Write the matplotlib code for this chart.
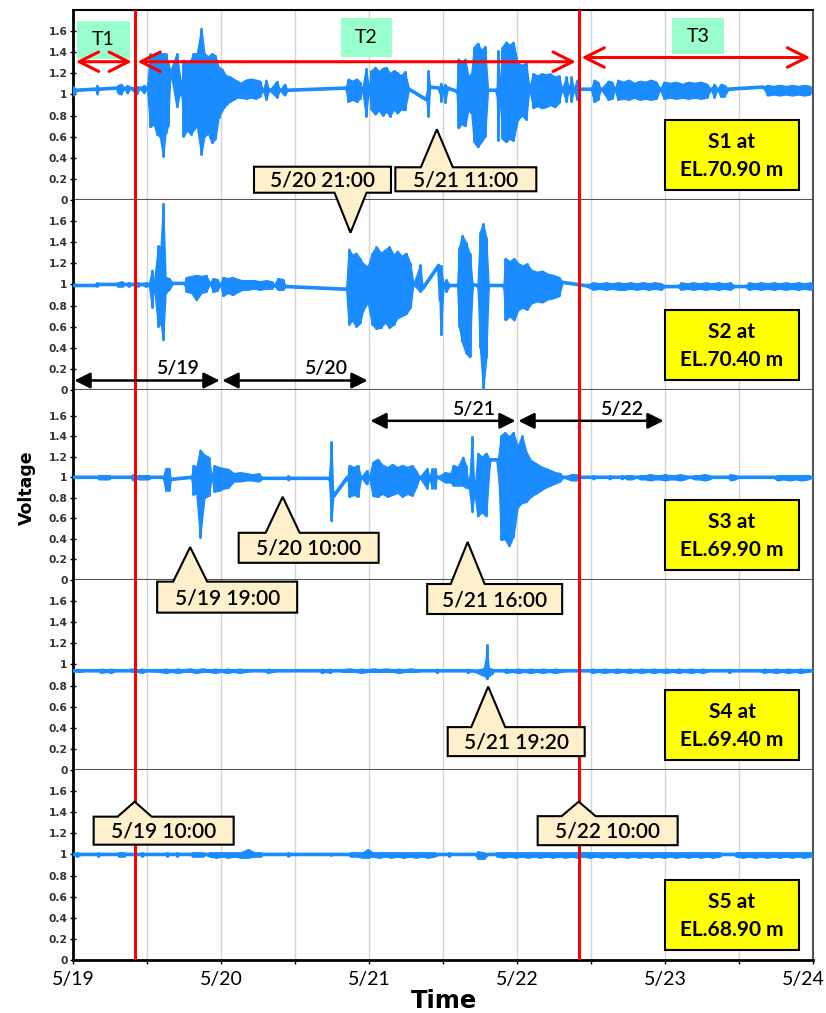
import numpy as np
import matplotlib
matplotlib.use("Agg")
import matplotlib.pyplot as plt
from matplotlib.patches import Rectangle, Polygon
from matplotlib.transforms import ScaledTranslation

# hours after 5/19 00:00, upper envelope, lower envelope
S1 = [(0.0, 1.08, 0.99), (0.6, 1.04, 1.04), (3.6, 1.05, 1.05), (3.9, 1.09, 1.00), (4.2, 1.05, 1.05),
      (7.0, 1.06, 1.06), (7.3, 1.09, 1.01), (7.8, 1.10, 1.00), (8.3, 1.06, 1.06), (8.8, 1.09, 1.01),
      (9.3, 1.06, 1.06), (10.3, 1.08, 1.00), (10.8, 1.06, 1.06), (11.5, 1.09, 1.01), (12.0, 1.06, 1.06),
      (12.5, 1.39, 0.69), (13.1, 1.36, 0.72), (13.6, 1.39, 0.62), (14.1, 1.39, 0.60), (14.6, 1.39, 0.41),
      (15.0, 1.39, 0.63), (15.4, 1.30, 0.70), (15.8, 1.22, 1.22), (16.8, 1.39, 0.88), (17.6, 1.07, 1.07),
      (17.9, 1.33, 0.60), (18.5, 1.30, 0.66), (19.1, 1.33, 0.62), (19.5, 1.39, 0.66), (20.1, 1.39, 0.70),
      (20.8, 1.63, 0.43), (21.3, 1.39, 0.60), (21.9, 1.36, 0.63), (22.5, 1.39, 0.54), (23.1, 1.37, 0.58),
      (23.6, 1.26, 0.78), (24.2, 1.24, 0.85), (24.8, 1.18, 0.90), (25.4, 1.17, 0.93), (26.0, 1.15, 0.95),
      (26.6, 1.13, 0.97), (27.2, 1.11, 0.97), (28.0, 1.14, 0.96), (28.8, 1.15, 0.97), (29.6, 1.14, 0.96),
      (30.3, 1.13, 0.98), (30.8, 1.04, 1.04), (31.3, 1.14, 0.95), (31.8, 1.04, 1.04), (33.1, 1.13, 0.97),
      (33.5, 1.04, 1.04), (34.3, 1.10, 0.99), (34.8, 1.04, 1.04), (44.2, 1.06, 1.06), (44.6, 1.15, 0.93),
      (45.3, 1.13, 0.95), (46.0, 1.15, 0.93), (46.5, 1.12, 0.96), (46.9, 1.05, 1.05), (47.5, 1.25, 0.79),
      (48.0, 1.06, 1.06), (48.4, 1.23, 0.85), (49.0, 1.26, 0.81), (49.6, 1.22, 0.85), (50.2, 1.25, 0.80),
      (50.8, 1.26, 0.84), (51.4, 1.20, 0.79), (52.0, 1.23, 0.86), (52.6, 1.21, 0.82), (53.2, 1.18, 0.86),
      (53.8, 1.22, 0.85), (54.5, 1.05, 1.05), (57.3, 0.95, 0.95), (57.6, 1.23, 0.79), (57.9, 1.07, 1.07),
      (59.4, 1.06, 1.06), (59.6, 1.11, 0.93), (59.9, 1.06, 1.06), (60.3, 1.10, 0.92), (60.8, 1.06, 1.06),
      (62.2, 1.03, 1.03), (62.5, 1.34, 0.68), (63.0, 1.30, 0.72), (63.6, 1.34, 0.70), (64.1, 1.17, 0.85),
      (64.6, 1.20, 0.82), (65.0, 1.45, 0.55), (65.6, 1.49, 0.50), (66.2, 1.42, 0.55), (66.8, 1.46, 0.60),
      (67.3, 1.04, 1.04), (68.7, 1.04, 1.04), (68.9, 1.42, 0.56), (69.2, 1.04, 1.04), (69.6, 1.45, 0.58),
      (70.2, 1.50, 0.55), (70.8, 1.47, 0.58), (71.4, 1.50, 0.56), (72.1, 1.30, 0.76), (72.8, 1.28, 0.80),
      (73.5, 1.30, 0.76), (74.0, 1.06, 1.06), (74.6, 1.20, 0.87), (75.3, 1.18, 0.89), (76.0, 1.20, 0.87),
      (76.7, 1.19, 0.88), (77.4, 1.20, 0.90), (78.1, 1.17, 0.88), (78.8, 1.18, 0.92), (79.3, 1.05, 1.05),
      (80.0, 1.17, 0.93), (80.4, 1.05, 1.05), (80.8, 1.17, 0.93), (81.2, 1.05, 1.05), (81.7, 1.14, 0.95),
      (82.2, 1.05, 1.05), (84.0, 1.05, 1.05), (84.5, 1.14, 0.93), (85.1, 1.12, 0.95), (85.6, 1.05, 1.05),
      (86.8, 1.13, 0.95), (87.4, 1.12, 0.96), (87.9, 1.05, 1.05), (88.3, 1.14, 0.95), (89.2, 1.12, 0.96),
      (90.1, 1.14, 0.95), (91.0, 1.11, 0.97), (91.9, 1.13, 0.95), (92.8, 1.12, 0.96), (93.7, 1.14, 0.95),
      (94.6, 1.12, 0.96), (95.2, 1.05, 1.05), (95.8, 1.12, 0.96), (96.8, 1.11, 0.97), (97.8, 1.12, 0.96),
      (98.8, 1.10, 0.97), (99.8, 1.12, 0.96), (100.8, 1.11, 0.97), (101.8, 1.12, 0.96), (102.8, 1.10, 0.97),
      (103.4, 1.05, 1.05), (104.0, 1.10, 0.97), (104.5, 1.05, 1.05), (105.0, 1.10, 0.98), (105.6, 1.09, 0.98),
      (106.3, 1.05, 1.05), (111.9, 1.07, 1.07), (112.6, 1.09, 0.99), (113.6, 1.08, 1.00), (114.6, 1.09, 0.99),
      (115.6, 1.08, 1.00), (116.6, 1.09, 0.99), (117.6, 1.08, 1.00), (118.6, 1.09, 0.99), (119.5, 1.08, 1.00)]

S2 = [(0.0, 0.99, 0.99), (3.6, 0.99, 0.99), (3.9, 1.02, 0.98), (4.2, 1.00, 1.00), (7.0, 1.00, 1.00),
      (7.3, 1.02, 0.98), (7.9, 1.03, 0.98), (8.5, 1.00, 1.00), (9.0, 1.02, 0.98), (9.5, 1.00, 1.00),
      (10.5, 1.02, 0.98), (11.0, 1.00, 1.00), (11.8, 1.02, 0.98), (12.3, 1.00, 1.00), (12.8, 1.14, 0.78),
      (13.1, 1.00, 1.00), (13.8, 1.37, 0.60), (14.2, 1.35, 0.64), (14.6, 1.77, 0.47), (15.0, 1.07, 0.92),
      (15.6, 1.06, 0.95), (16.2, 1.01, 1.01), (18.0, 1.01, 1.01), (18.4, 1.07, 0.93), (19.2, 1.08, 0.92),
      (20.0, 1.09, 0.85), (20.8, 1.08, 0.92), (21.6, 1.09, 0.93), (22.2, 1.01, 1.01), (22.7, 1.06, 0.93),
      (23.4, 1.05, 0.94), (23.9, 1.00, 1.00), (24.3, 1.07, 0.89), (25.1, 1.06, 0.92), (25.9, 1.07, 0.90),
      (26.7, 1.05, 0.93), (27.5, 1.04, 0.95), (28.3, 1.04, 0.95), (29.3, 1.04, 0.96), (30.3, 1.03, 0.95),
      (31.3, 1.04, 0.96), (32.2, 1.03, 0.96), (32.6, 0.99, 0.99), (33.2, 1.06, 0.95), (34.0, 1.05, 0.95),
      (34.5, 0.98, 0.98), (44.3, 0.955, 0.955), (44.7, 1.34, 0.62), (45.3, 1.28, 0.66), (45.9, 1.30, 0.60),
      (46.5, 1.25, 0.63), (47.0, 1.20, 0.75), (47.8, 1.17, 0.83), (48.5, 1.30, 0.62), (49.2, 1.36, 0.58),
      (49.9, 1.30, 0.59), (50.6, 1.33, 0.64), (51.3, 1.36, 0.59), (52.0, 1.28, 0.62), (52.6, 1.32, 0.68),
      (53.3, 1.27, 0.70), (54.0, 1.30, 0.72), (54.7, 1.20, 0.78), (55.2, 1.00, 1.00), (56.3, 1.19, 0.93),
      (56.7, 0.96, 0.96), (59.3, 1.18, 1.18), (59.6, 1.18, 0.52), (60.1, 1.00, 1.00), (60.5, 1.05, 0.93),
      (61.1, 0.99, 0.99), (62.3, 0.99, 0.99), (62.6, 1.35, 0.60), (63.1, 1.47, 0.45), (63.7, 1.40, 0.35),
      (64.3, 1.30, 0.31), (64.8, 1.00, 1.00), (65.6, 0.99, 0.99), (66.0, 1.50, 0.40), (66.5, 1.58, 0.00),
      (67.0, 1.45, 0.30), (67.4, 0.99, 0.99), (69.8, 0.99, 0.99), (70.1, 1.25, 0.66), (70.8, 1.22, 0.70),
      (71.5, 1.25, 0.66), (72.2, 1.20, 0.76), (72.9, 1.18, 0.78), (73.6, 1.20, 0.76), (74.3, 1.14, 0.82),
      (75.2, 1.12, 0.84), (76.1, 1.13, 0.83), (77.0, 1.10, 0.86), (77.9, 1.09, 0.87), (78.8, 1.07, 0.89),
      (79.4, 1.02, 1.02), (82.9, 0.99, 0.99), (84.4, 1.02, 0.95), (85.4, 1.01, 0.96), (86.4, 1.02, 0.95),
      (87.4, 1.01, 0.96), (88.4, 1.02, 0.95), (89.4, 1.01, 0.95), (90.4, 1.02, 0.96), (91.4, 1.01, 0.95),
      (92.4, 1.02, 0.96), (93.4, 1.01, 0.95), (94.4, 1.02, 0.96), (95.4, 1.01, 0.95), (96.0, 0.98, 0.98),
      (98.0, 0.98, 0.98), (98.6, 1.02, 0.95), (99.6, 1.01, 0.96), (100.6, 1.02, 0.95), (101.6, 1.01, 0.96),
      (102.6, 1.02, 0.95), (103.6, 1.01, 0.96), (104.6, 1.02, 0.95), (105.6, 1.01, 0.96), (106.6, 1.02, 0.95),
      (107.4, 0.98, 0.98), (109.0, 0.98, 0.98), (109.6, 1.02, 0.95), (110.6, 1.01, 0.96), (111.6, 1.02, 0.95),
      (112.6, 1.01, 0.96), (113.6, 1.02, 0.95), (114.6, 1.01, 0.96), (115.6, 1.02, 0.95), (116.6, 1.01, 0.96),
      (117.6, 1.02, 0.95), (118.6, 1.01, 0.96), (119.6, 1.02, 0.95)]

S3 = [(0.0, 1.00, 1.00), (3.9, 1.00, 1.00), (4.2, 1.02, 0.98), (5.0, 1.02, 0.98), (5.8, 1.02, 0.98),
      (6.2, 1.00, 1.00), (9.3, 1.00, 1.00), (9.7, 1.03, 0.97), (10.1, 1.00, 1.00), (10.6, 1.02, 0.98),
      (11.4, 1.02, 0.98), (12.2, 1.02, 0.98), (12.8, 1.00, 1.00), (14.6, 1.00, 1.00), (15.0, 1.09, 0.87),
      (15.5, 1.09, 0.87), (15.9, 0.98, 0.98), (19.2, 1.00, 1.00), (19.5, 1.12, 0.83), (20.0, 1.10, 0.85),
      (20.6, 1.27, 0.41), (21.3, 1.22, 0.80), (22.0, 1.20, 0.82), (22.5, 1.00, 1.00), (22.9, 1.12, 0.86),
      (23.6, 1.10, 0.87), (24.4, 1.09, 0.89), (25.2, 1.08, 0.90), (26.1, 1.04, 0.96), (27.1, 1.05, 0.96),
      (28.1, 1.04, 0.97), (29.1, 1.03, 0.97), (30.1, 1.04, 0.96), (30.8, 0.99, 0.99), (34.6, 0.99, 0.99),
      (34.9, 1.02, 0.97), (35.2, 0.99, 0.99), (41.5, 0.99, 0.99), (41.9, 1.35, 0.57), (42.2, 0.81, 0.81),
      (44.5, 1.00, 1.00), (44.8, 1.12, 0.81), (45.5, 1.10, 0.83), (46.2, 1.12, 0.81), (46.7, 1.00, 1.00),
      (47.6, 1.07, 0.93), (48.0, 1.00, 1.00), (48.6, 1.15, 0.82), (49.4, 1.18, 0.81), (50.2, 1.12, 0.84),
      (51.0, 1.10, 0.81), (51.8, 1.13, 0.83), (52.6, 1.10, 0.85), (53.4, 1.12, 0.81), (54.2, 1.10, 0.84),
      (55.0, 1.12, 0.82), (55.7, 1.06, 0.91), (56.2, 1.00, 1.00), (57.4, 1.09, 0.89), (57.8, 1.00, 1.00),
      (58.2, 1.09, 0.89), (58.5, 1.00, 1.00), (58.7, 1.09, 0.89), (59.0, 1.00, 1.00), (60.3, 1.05, 0.95),
      (61.2, 1.04, 0.95), (61.7, 1.12, 0.92), (62.4, 1.10, 0.92), (63.2, 1.20, 0.92), (63.7, 1.12, 0.90),
      (64.2, 0.90, 0.90), (64.7, 1.40, 0.66), (65.1, 0.85, 0.85), (65.6, 1.24, 0.62), (66.3, 1.20, 0.66),
      (67.0, 1.24, 0.62), (67.6, 1.17, 1.17), (68.9, 1.17, 1.17), (69.4, 1.41, 0.39), (70.0, 1.44, 0.40),
      (70.7, 1.40, 0.33), (71.4, 1.44, 0.42), (72.1, 1.30, 0.71), (72.8, 1.41, 0.75), (73.5, 1.25, 0.76),
      (74.2, 1.17, 0.81), (75.0, 1.14, 0.84), (75.8, 1.11, 0.87), (76.6, 1.09, 0.90), (77.4, 1.07, 0.92),
      (78.2, 1.05, 0.94), (79.0, 1.04, 0.96), (79.5, 1.00, 1.00), (80.8, 1.03, 0.97), (81.6, 1.03, 0.97),
      (82.2, 1.00, 1.00), (84.0, 1.00, 1.00), (84.4, 1.02, 0.98), (84.8, 1.00, 1.00), (86.6, 1.00, 1.00),
      (87.0, 1.02, 0.98), (87.4, 1.00, 1.00), (88.6, 1.00, 1.00), (89.0, 1.02, 0.98), (89.4, 1.00, 1.00),
      (89.8, 1.02, 0.98), (90.6, 1.02, 0.98), (91.4, 1.00, 1.00), (92.0, 1.02, 0.98), (92.8, 1.02, 0.98),
      (93.6, 1.03, 0.97), (94.4, 1.02, 0.98), (95.2, 1.02, 0.98), (96.0, 1.03, 0.97), (96.8, 1.02, 0.98),
      (97.6, 1.02, 0.98), (98.4, 1.03, 0.97), (99.2, 1.02, 0.98), (100.0, 1.00, 1.00), (100.8, 1.02, 0.98),
      (101.6, 1.02, 0.98), (102.4, 1.03, 0.97), (103.2, 1.02, 0.98), (103.8, 1.00, 1.00), (106.2, 1.00, 1.00),
      (106.6, 1.03, 0.97), (107.4, 1.02, 0.98), (107.9, 1.00, 1.00), (113.6, 1.00, 1.00), (114.2, 1.02, 0.97),
      (115.2, 1.02, 0.98), (116.2, 1.02, 0.97), (117.2, 1.02, 0.98), (118.2, 1.02, 0.97), (119.2, 1.02, 0.98),
      (120.0, 1.00, 1.00)]

S4 = [(0.0, 0.94, 0.94), (1.0, 0.95, 0.93), (2.0, 0.94, 0.94), (4.0, 0.94, 0.94), (4.6, 0.96, 0.92),
      (5.4, 0.95, 0.93), (6.2, 0.96, 0.92), (7.0, 0.94, 0.94), (9.0, 0.94, 0.94), (9.6, 0.96, 0.93),
      (10.4, 0.95, 0.93), (11.2, 0.96, 0.92), (12.0, 0.94, 0.94), (14.0, 0.95, 0.93), (15.0, 0.96, 0.92),
      (16.0, 0.95, 0.93), (17.0, 0.96, 0.92), (18.0, 0.95, 0.93), (19.0, 0.96, 0.93), (20.0, 0.95, 0.92),
      (21.0, 0.96, 0.93), (22.0, 0.95, 0.93), (23.0, 0.96, 0.92), (24.0, 0.95, 0.93), (25.0, 0.96, 0.92),
      (26.0, 0.95, 0.93), (27.0, 0.96, 0.92), (28.0, 0.95, 0.93), (29.0, 0.94, 0.94), (31.0, 0.94, 0.94),
      (31.6, 0.96, 0.92), (32.4, 0.95, 0.93), (33.2, 0.94, 0.94), (39.8, 0.94, 0.94), (40.3, 0.96, 0.92),
      (41.0, 0.95, 0.93), (41.7, 0.96, 0.92), (42.2, 0.94, 0.94), (43.2, 0.94, 0.94), (43.8, 0.95, 0.93),
      (44.8, 0.96, 0.93), (45.8, 0.95, 0.93), (46.8, 0.96, 0.92), (47.8, 0.95, 0.93), (48.8, 0.96, 0.93),
      (49.8, 0.95, 0.93), (50.8, 0.96, 0.93), (51.8, 0.95, 0.93), (52.8, 0.96, 0.92), (53.8, 0.95, 0.93),
      (54.8, 0.96, 0.93), (55.8, 0.95, 0.93), (56.4, 0.94, 0.94), (58.6, 0.94, 0.94), (59.0, 0.96, 0.92),
      (59.4, 0.94, 0.94), (63.6, 0.94, 0.94), (64.0, 0.96, 0.92), (64.6, 0.94, 0.94), (65.6, 0.95, 0.92),
      (66.3, 0.96, 0.90), (66.8, 0.97, 0.89), (67.1, 1.19, 0.86), (67.4, 0.97, 0.89), (67.9, 0.96, 0.91),
      (68.3, 0.94, 0.94), (69.6, 0.94, 0.94), (70.2, 0.96, 0.92), (71.2, 0.95, 0.93), (72.2, 0.96, 0.92),
      (73.2, 0.95, 0.93), (74.2, 0.96, 0.92), (75.2, 0.95, 0.93), (76.2, 0.96, 0.92), (77.2, 0.95, 0.93),
      (78.2, 0.96, 0.92), (79.2, 0.95, 0.93), (80.2, 0.94, 0.94), (83.6, 0.94, 0.94), (84.2, 0.96, 0.92),
      (85.2, 0.95, 0.93), (86.2, 0.96, 0.92), (87.2, 0.95, 0.93), (88.2, 0.96, 0.92), (89.2, 0.95, 0.93),
      (90.2, 0.96, 0.92), (91.2, 0.95, 0.93), (92.2, 0.96, 0.92), (93.2, 0.95, 0.93), (94.2, 0.96, 0.92),
      (95.2, 0.95, 0.93), (96.2, 0.96, 0.92), (97.2, 0.95, 0.93), (98.2, 0.96, 0.92), (99.2, 0.95, 0.93),
      (100.2, 0.96, 0.92), (101.2, 0.95, 0.93), (102.2, 0.96, 0.92), (103.2, 0.94, 0.94), (106.0, 0.94, 0.94),
      (106.4, 0.96, 0.92), (107.0, 0.94, 0.94), (111.4, 0.94, 0.94), (112.0, 0.96, 0.92), (113.0, 0.95, 0.93),
      (114.0, 0.96, 0.92), (115.0, 0.95, 0.93), (116.0, 0.96, 0.92), (117.0, 0.95, 0.93), (118.0, 0.96, 0.92),
      (119.0, 0.95, 0.93), (120.0, 0.94, 0.94)]

S5 = [(0.0, 1.00, 1.00), (0.7, 1.02, 0.98), (1.3, 1.00, 1.00), (3.8, 1.00, 1.00), (4.1, 1.02, 0.98),
      (4.5, 1.00, 1.00), (7.0, 1.00, 1.00), (7.5, 1.02, 0.98), (8.2, 1.02, 0.98), (8.7, 1.00, 1.00),
      (10.8, 1.00, 1.00), (11.2, 1.02, 0.98), (11.6, 1.00, 1.00), (15.0, 1.00, 1.00), (15.3, 1.02, 0.98),
      (15.7, 1.00, 1.00), (16.6, 1.00, 1.00), (16.9, 1.02, 0.98), (17.3, 1.00, 1.00), (19.0, 1.00, 1.00),
      (19.4, 1.02, 0.98), (20.2, 1.02, 0.98), (21.0, 1.02, 0.98), (21.4, 1.00, 1.00), (22.2, 1.02, 0.98),
      (23.2, 1.02, 0.97), (24.2, 1.02, 0.98), (25.2, 1.02, 0.97), (26.2, 1.02, 0.98), (27.2, 1.02, 0.97),
      (28.4, 1.05, 0.97), (29.4, 1.02, 0.98), (30.4, 1.02, 0.98), (30.9, 1.00, 1.00), (34.6, 1.00, 1.00),
      (34.9, 1.02, 0.98), (35.3, 1.00, 1.00), (41.5, 1.00, 1.00), (41.8, 1.01, 0.99), (42.2, 1.00, 1.00),
      (44.6, 1.00, 1.00), (45.0, 1.02, 0.98), (46.0, 1.02, 0.98), (47.0, 1.02, 0.97), (47.8, 1.05, 0.97),
      (48.6, 1.02, 0.98), (49.6, 1.02, 0.97), (50.6, 1.02, 0.98), (51.6, 1.02, 0.97), (52.6, 1.02, 0.98),
      (53.6, 1.02, 0.97), (54.6, 1.02, 0.98), (55.6, 1.02, 0.97), (56.6, 1.02, 0.98), (57.6, 1.02, 0.97),
      (58.6, 1.02, 0.98), (59.4, 1.00, 1.00), (60.6, 1.00, 1.00), (61.0, 1.02, 0.98), (61.4, 1.00, 1.00),
      (65.2, 1.00, 1.00), (65.6, 1.03, 0.96), (66.6, 1.02, 0.96), (67.3, 1.00, 1.00), (68.4, 1.00, 1.00),
      (68.8, 1.02, 0.98), (69.8, 1.02, 0.97), (70.8, 1.02, 0.98), (71.8, 1.02, 0.97), (72.8, 1.02, 0.98),
      (73.8, 1.02, 0.97), (74.8, 1.02, 0.98), (75.8, 1.02, 0.97), (76.8, 1.02, 0.98), (77.8, 1.02, 0.97),
      (78.8, 1.02, 0.98), (79.8, 1.02, 0.97), (80.8, 1.02, 0.98), (81.8, 1.02, 0.97), (82.8, 1.02, 0.98),
      (83.8, 1.02, 0.97), (84.8, 1.02, 0.98), (85.8, 1.02, 0.97), (86.8, 1.02, 0.98), (87.8, 1.02, 0.97),
      (88.8, 1.02, 0.98), (89.8, 1.02, 0.97), (90.8, 1.02, 0.98), (91.8, 1.02, 0.97), (92.8, 1.02, 0.98),
      (93.8, 1.02, 0.97), (94.8, 1.02, 0.98), (95.8, 1.02, 0.97), (96.8, 1.02, 0.98), (97.8, 1.02, 0.97),
      (98.8, 1.02, 0.98), (99.8, 1.02, 0.97), (100.8, 1.02, 0.98), (101.8, 1.02, 0.97), (102.8, 1.02, 0.98),
      (103.8, 1.02, 0.97), (104.8, 1.02, 0.98), (105.4, 1.00, 1.00), (107.0, 1.00, 1.00), (107.6, 1.02, 0.98),
      (108.6, 1.02, 0.97), (109.6, 1.02, 0.98), (110.6, 1.02, 0.97), (111.6, 1.02, 0.98), (112.6, 1.02, 0.97),
      (113.6, 1.02, 0.98), (114.6, 1.02, 0.97), (115.6, 1.02, 0.98), (116.6, 1.02, 0.97), (117.6, 1.02, 0.98),
      (118.6, 1.02, 0.97), (119.6, 1.02, 0.98)]

RECORDS = [S1, S2, S3, S4, S5]
SENSORS = ["S1", "S2", "S3", "S4", "S5"]
ELEVATIONS = ["70.90", "70.40", "69.90", "69.40", "68.90"]
DAY_LABELS = ["5/19", "5/20", "5/21", "5/22", "5/23", "5/24"]
Y_TICKS = [0, 0.2, 0.4, 0.6, 0.8, 1.0, 1.2, 1.4, 1.6]

EVENT_HOURS = [10, 82]            # 5/19 10:00 and 5/22 10:00
PERIODS = ["T1", "T2", "T3"]
PERIOD_BOUNDS = [0, 10, 82, 120]

CALLOUT_TEXT = ["5/21 11:00", "5/20 21:00", "5/20 10:00", "5/19 19:00",
                "5/21 16:00", "5/21 19:20", "5/19 10:00", "5/22 10:00"]
CALLOUT_PANEL = [0, 1, 2, 2, 2, 3, 4, 4]
CALLOUT_HOUR = [59, 45, 34, 19, 64, 67.33, 10, 82]
CALLOUT_VALUE = [0.67, 1.49, 0.81, 0.32, 0.37, 0.79, 1.5, 1.5]

# ---- layout / style ----
BLUE = "#1a8cff"
W, H = 826, 1013
LEFT, RIGHT = 73, 813
PANEL_TOP, PANEL_H = 10, 190
YMAX = [1.8, 1.8, 1.85, 1.8, 1.8]
LAT = ["Lato", "DejaVu Sans"]

# box centre offset from pointer tip (px), box w/h, pointer half-base
CALLOUT_BOX = [(29, 50, 141, 24, 16), (-28, -53, 137, 26, 16), (26, 51, 140, 30, 17),
               (37, 50, 140, 31, 17), (27, 57, 135, 30, 17), (28, 55, 137, 29, 17),
               (29, 29, 140, 28, 17), (29, 29, 140, 29, 17)]
PERIOD_BOX = [(0.65, 9.2, 1.34, 1.70), (43.5, 51.7, 1.35, 1.72), (97.1, 105.6, 1.38, 1.72)]
PERIOD_Y = [1.31, 1.31, 1.35]

fig = plt.figure(figsize=(W / 100, H / 100), dpi=100)
axes = []
for i, rec in enumerate(RECORDS):
    top = PANEL_TOP + PANEL_H * i
    ax = fig.add_axes([LEFT / W, 1 - (top + PANEL_H) / H, (RIGHT - LEFT) / W, PANEL_H / H])
    axes.append(ax)
    arr = np.array(rec)
    t, hi, lo = arr[:, 0], arr[:, 1], arr[:, 2]
    ax.fill_between(t, lo, hi, color=BLUE, lw=1.0, zorder=3)
    ax.vlines(t[hi > lo], lo[hi > lo], hi[hi > lo], color=BLUE, lw=2.0, zorder=3)
    ax.plot(t, (hi + lo) / 2, color=BLUE, lw=2.6, zorder=3, solid_capstyle="round")

    ax.set_xlim(0, 120)
    ax.set_ylim(0, YMAX[i])
    ax.set_xticks(np.arange(0, 121, 24))
    ax.set_xticks(np.arange(12, 121, 24), minor=True)
    ax.grid(True, axis="x", which="both", color="#d4d4d4", lw=1.0, zorder=0)
    ax.set_yticks(Y_TICKS)
    ax.set_yticklabels([f"{v:g}" for v in Y_TICKS], fontsize=7.7, fontweight="bold", color="#333333")
    ax.tick_params(axis="y", direction="inout", length=4, width=1, pad=2)
    if i < 4:
        ax.tick_params(axis="x", which="both", length=0, labelbottom=False)
    else:
        ax.set_xticklabels(DAY_LABELS, fontsize=14, family=LAT)
        ax.tick_params(axis="x", which="both", direction="out", length=3, width=1, pad=5)
        last = ax.get_xticklabels()[-1]
        last.set_transform(last.get_transform() + ScaledTranslation(-10 / 100, 0, fig.dpi_scale_trans))

    for side in ["left", "right", "top", "bottom"]:
        ax.spines[side].set_linewidth(1.5)
        ax.spines[side].set_color("#555555")
    ax.spines["left"].set_color("black")
    ax.spines["left"].set_linewidth(2)
    if i == 0:
        ax.spines["top"].set_color("black")
    else:
        ax.spines["top"].set_visible(False)
    if i == 4:
        ax.spines["bottom"].set_color("black")
        ax.spines["bottom"].set_linewidth(2)

    for h in EVENT_HOURS:
        ax.axvline(h, color="red", lw=2.2, zorder=6)

    ax.add_patch(Rectangle((0.80, 0.053), 0.181, 0.37, transform=ax.transAxes,
                           facecolor="#ffff00", edgecolor="black", lw=1.5, zorder=7))
    ax.text(0.8905, 0.307, f"{SENSORS[i]} at", transform=ax.transAxes, ha="center", va="center",
            fontsize=15, fontweight="bold", family=LAT, zorder=8)
    ax.text(0.8905, 0.158, f"EL.{ELEVATIONS[i]} m", transform=ax.transAxes, ha="center", va="center",
            fontsize=15, fontweight="bold", family=LAT, zorder=8)

# period arrows and labels in the top panel
ax0 = axes[0]
for k, name in enumerate(PERIODS):
    x0, x1, y0, y1 = PERIOD_BOX[k]
    ax0.add_patch(Rectangle((x0, y0), x1 - x0, y1 - y0, facecolor="#99ffcc", edgecolor="none", zorder=4))
    ax0.text((x0 + x1) / 2, (y0 + y1) / 2, name, ha="center", va="center", fontsize=14,
             family=LAT, zorder=5)
    ax0.annotate("", xy=(PERIOD_BOUNDS[k + 1], PERIOD_Y[k]), xytext=(PERIOD_BOUNDS[k], PERIOD_Y[k]),
                 arrowprops=dict(arrowstyle="<->,head_length=0.7,head_width=0.35", color="red",
                                 lw=2.2, mutation_scale=20, shrinkA=2, shrinkB=2), zorder=6)

# day span arrows
for k in range(4):
    ax = axes[1] if k < 2 else axes[2]
    ya = 0.09 if k < 2 else 1.55
    ax.annotate("", xy=(24 * (k + 1), ya), xytext=(24 * k, ya),
                arrowprops=dict(arrowstyle="<|-|>,head_length=0.6,head_width=0.3", color="black",
                                lw=1.8, mutation_scale=16, shrinkA=1, shrinkB=1), zorder=6)
    ax.text(24 * k + 17, ya + 0.115, DAY_LABELS[k], ha="center", va="center", fontsize=14,
            fontweight="semibold", family=LAT, zorder=6)

# overlay for callouts, in pixel coordinates
ov = fig.add_axes([0, 0, 1, 1], zorder=20)
ov.set_xlim(0, W)
ov.set_ylim(H, 0)
ov.axis("off")
ov.patch.set_alpha(0)
for k, txt in enumerate(CALLOUT_TEXT):
    src = axes[CALLOUT_PANEL[k]]
    disp = src.transData.transform((CALLOUT_HOUR[k], CALLOUT_VALUE[k]))
    px, py = ov.transData.inverted().transform(disp)
    dx, dy, bw, bh, hw = CALLOUT_BOX[k]
    cx, cy = px + dx, py + dy
    L, R, T, B = cx - bw / 2, cx + bw / 2, cy - bh / 2, cy + bh / 2
    if dy > 0:
        pts = [(L, T), (px - hw, T), (px, py), (px + hw, T), (R, T), (R, B), (L, B)]
    else:
        pts = [(L, T), (R, T), (R, B), (px + hw, B), (px, py), (px - hw, B), (L, B)]
    ov.add_patch(Polygon(pts, closed=True, facecolor="#fff0cc", edgecolor="black", lw=1.5))
    ov.text(cx, cy + 1, txt, ha="center", va="center", fontsize=15, fontweight="semibold", family=LAT)

fig.text(27 / W, 1 - 488 / H, "Voltage", rotation=90, ha="center", va="center",
         fontsize=12.5, fontweight="bold")
fig.text(444 / W, 1 - 1001 / H, "Time", ha="center", va="center", fontsize=17.5, fontweight="bold")

fig.savefig("out.png", dpi=100)
